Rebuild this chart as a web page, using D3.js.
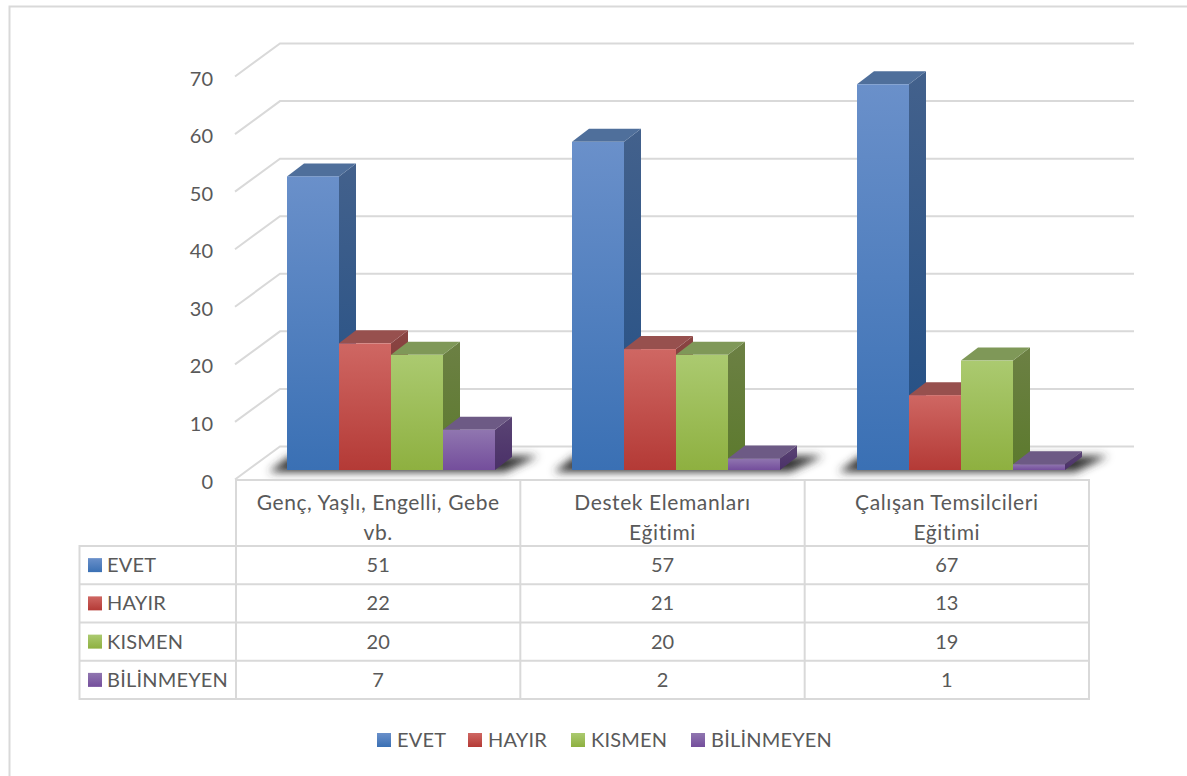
<!DOCTYPE html>
<html lang="tr">
<head>
    <meta charset="utf-8">
    <title>EVET / HAYIR 3D chart</title>
    <script src="https://cdn.jsdelivr.net/npm/d3@7"></script>
    <style>
        body { margin: 0; background: #fff; }
        text { font-family: Lato, "Open Sans", sans-serif; font-size: 20px; fill: #595959; }
        .caps { letter-spacing: 0.2px; }
        .head { font-size: 21px; letter-spacing: 0.6px; }
    </style>
</head>
<body>
<script>
    // data
    var categories = ["Genç, Yaşlı, Engelli, Gebe\nvb.", "Destek Elemanları\nEğitimi", "Çalışan Temsilcileri\nEğitimi"];
    var seriesNames = ["EVET", "HAYIR", "KISMEN", "BİLİNMEYEN"];
    var evet = [51, 57, 67];
    var hayir = [22, 21, 13];
    var kismen = [20, 20, 19];
    var bilinmeyen = [7, 2, 1];
    var yTicks = [0, 10, 20, 30, 40, 50, 60, 70];

    var seriesValues = [evet, hayir, kismen, bilinmeyen];

    // front colour top/bottom, side top/bottom, roof
    var colors = [
        {front: ["#6a90ca", "#3a70b4"], side: ["#43618c", "#224f85"], top: "#4f6f9b"},
        {front: ["#cf6763", "#b43a36"], side: ["#8a4543", "#7a2b29"], top: "#97504e"},
        {front: ["#abca70", "#8eb040"], side: ["#6c8044", "#5c7a2d"], top: "#7f9858"},
        {front: ["#9076b0", "#744e9c"], side: ["#5a4474", "#4a3068"], top: "#6d5a85"}
    ];

    var width = 1187, height = 776;
    var floorFront = 479.5, barBase = 470;
    var depthX = 17, depthY = 13;      // bar depth
    var wallDX = 45, wallDY = 33;      // side wall of the 3D box

    var svg = d3.select("body").append("svg")
        .attr("width", width)
        .attr("height", height)
        .style("display", "block");

    var defs = svg.append("defs");
    defs.append("filter").attr("id", "blur")
        .attr("x", "-10%").attr("y", "-80%").attr("width", "120%").attr("height", "260%")
        .append("feGaussianBlur").attr("stdDeviation", 4.5);

    function addGradient(id, c) {
        var g = defs.append("linearGradient").attr("id", id)
            .attr("x1", 0).attr("y1", 0).attr("x2", 0).attr("y2", 1);
        g.append("stop").attr("offset", "0%").attr("stop-color", c[0]);
        g.append("stop").attr("offset", "100%").attr("stop-color", c[1]);
    }
    colors.forEach(function (c, i) {
        addGradient("front" + i, c.front);
        addGradient("side" + i, c.side);
    });

    // scales
    var x0 = d3.scaleBand().domain(d3.range(categories.length)).range([236, 1091]);
    var x1 = d3.scaleBand().domain(d3.range(seriesNames.length)).range([51, 259]);
    var h = d3.scaleLinear().domain([0, 70]).range([0, -403]);
    var tableX = d3.scaleBand().domain(d3.range(categories.length)).range([236, 1089]);
    var tableY = d3.scaleBand().domain(seriesNames).range([546, 699]);

    var lineColor = "#d9d9d9";

    // outer frame
    svg.append("path")
        .attr("d", "M9.5," + height + "V6.5H" + width)
        .attr("fill", "none").attr("stroke", lineColor).attr("stroke-width", 2);

    // grid lines on the wall and the side
    var grid = svg.append("g").attr("fill", "none").attr("stroke", lineColor).attr("stroke-width", 2);
    grid.selectAll("path").data(yTicks).enter().append("path")
        .attr("d", function (d) {
            var yb = floorFront + h(d);
            return "M235," + yb + "L" + (235 + wallDX) + "," + (yb - wallDY) + "H1134";
        });

    // y axis labels
    var yAxis = d3.axisLeft(h).tickValues(yTicks).tickSize(0).tickPadding(0);
    var yG = svg.append("g").attr("transform", "translate(213," + (floorFront + 1) + ")").call(yAxis);
    yG.select(".domain").remove();
    yG.selectAll("text").attr("dy", "0.38em").style("font-size", "20px").style("font-family", "Lato");

    // blurred shadow on the floor
    var shadows = svg.append("g").attr("filter", "url(#blur)");
    shadows.selectAll("path").data(d3.range(categories.length)).enter().append("path")
        .attr("fill", "#333")
        .attr("d", function (i) {
            var l = x0(i) + x1(0), r = x0(i) + x1(3) + x1.bandwidth();
            return "M" + (l - 18) + "," + (barBase + 2) + "L" + (l + 3) + "," + (barBase - depthY - 1)
                + "H" + (r + depthX + 26) + "L" + (r + 10) + "," + (barBase + 2) + "Z";
        });

    // bars, one group per category
    var groups = svg.selectAll("g.cat").data(d3.range(categories.length)).enter().append("g")
        .attr("class", "cat")
        .attr("transform", function (i) { return "translate(" + x0(i) + ",0)"; });

    seriesValues.forEach(function (values, s) {
        var bx = x1(s), bw = x1.bandwidth();
        groups.append("path")
            .attr("fill", "url(#side" + s + ")")
            .attr("d", function (i) {
                var t = barBase + h(values[i]);
                return "M" + (bx + bw) + "," + t + "l" + depthX + "," + (-depthY)
                    + "V" + (barBase - depthY) + "L" + (bx + bw) + "," + barBase + "Z";
            });
        groups.append("path")
            .attr("fill", colors[s].top)
            .attr("d", function (i) {
                var t = barBase + h(values[i]);
                return "M" + bx + "," + t + "l" + depthX + "," + (-depthY)
                    + "h" + bw + "l" + (-depthX) + "," + depthY + "Z";
            });
        groups.append("rect")
            .attr("fill", "url(#front" + s + ")")
            .attr("x", bx)
            .attr("width", bw)
            .attr("y", function (i) { return barBase + h(values[i]); })
            .attr("height", function (i) { return -h(values[i]); });
    });

    // data table lines
    var table = svg.append("g").attr("stroke", lineColor).attr("stroke-width", 2);
    var colEdges = d3.range(categories.length).map(function (i) { return tableX(i); }).concat([tableX.range()[1]]);
    table.append("line").attr("x1", 235).attr("x2", 1090).attr("y1", 480).attr("y2", 480);
    seriesNames.forEach(function (n, i) {
        if (i === 0) {
            table.append("line").attr("x1", 79).attr("x2", 1090).attr("y1", tableY(n)).attr("y2", tableY(n));
        }
        var yEnd = tableY(n) + tableY.bandwidth();
        table.append("line").attr("x1", 79).attr("x2", 1090).attr("y1", yEnd).attr("y2", yEnd);
    });
    table.append("line").attr("x1", 79.5).attr("x2", 79.5).attr("y1", 545).attr("y2", 700);
    colEdges.forEach(function (e) {
        table.append("line").attr("x1", e).attr("x2", e).attr("y1", 479).attr("y2", 700);
    });

    // category headers
    var headers = svg.append("g").attr("text-anchor", "middle");
    categories.forEach(function (c, i) {
        c.split("\n").forEach(function (line, k) {
            headers.append("text")
                .attr("class", "head")
                .attr("x", tableX(i) + tableX.bandwidth() / 2)
                .attr("y", 510 + k * 30)
                .text(line);
        });
    });

    // swatch with the same gradient as the bars
    function swatch(parent, x, cy, s) {
        parent.append("rect")
            .attr("x", x).attr("y", cy - 7)
            .attr("width", 14).attr("height", 14)
            .attr("fill", "url(#front" + s + ")");
    }

    // table rows
    var rows = svg.append("g");
    seriesNames.forEach(function (n, s) {
        var cy = tableY(n) + tableY.bandwidth() / 2;
        swatch(rows, 88, cy, s);
        rows.append("text").attr("class", "caps").attr("x", 107).attr("y", cy + 7).text(n);
        seriesValues[s].forEach(function (v, i) {
            rows.append("text")
                .attr("x", tableX(i) + tableX.bandwidth() / 2)
                .attr("y", cy + 7)
                .attr("text-anchor", "middle")
                .text(v);
        });
    });

    // legend
    var legendX = d3.scaleOrdinal().domain(seriesNames).range([377, 468, 571, 691]);
    var legend = svg.append("g");
    seriesNames.forEach(function (n, s) {
        swatch(legend, legendX(n), 740, s);
        legend.append("text").attr("class", "caps").attr("x", legendX(n) + 20).attr("y", 747).text(n);
    });
</script>
</body>
</html>
